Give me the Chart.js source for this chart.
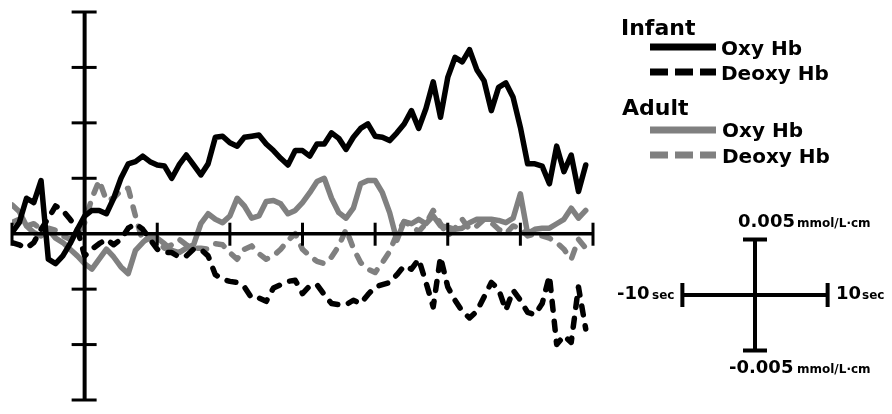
<!DOCTYPE html>
<html>
<head>
<meta charset="utf-8">
<script src="https://cdn.jsdelivr.net/npm/chart.js@4.4.1/dist/chart.umd.min.js"></script>
<style>
  html, body { margin: 0; padding: 0; background: #fff; }
  #wrap { width: 892px; height: 414px; position: relative; }
</style>
</head>
<body>
<div id="wrap"><canvas id="myChart"></canvas></div>
<script>
// time in sec, values in mmol/L·cm
const seconds = [-10, -9, -8, -7, -6, -5, -4, -3, -2, -1,
  0, 1, 2, 3, 4, 5, 6, 7, 8, 9,
  10, 11, 12, 13, 14, 15, 16, 17, 18, 19,
  20, 21, 22, 23, 24, 25, 26, 27, 28, 29,
  30, 31, 32, 33, 34, 35, 36, 37, 38, 39,
  40, 41, 42, 43, 44, 45, 46, 47, 48, 49,
  50, 51, 52, 53, 54, 55, 56, 57, 58, 59,
  60, 61, 62, 63, 64, 65, 66, 67, 68, 69];

const infantOxy = [0.0001, 0.0010, 0.0032, 0.0028, 0.0048, -0.0023, -0.0027, -0.0020, -0.0009, 0.0004,
  0.0016, 0.0021, 0.0021, 0.0018, 0.0032, 0.0050, 0.0063, 0.0065, 0.0070, 0.0065,
  0.0062, 0.0061, 0.0050, 0.0062, 0.0071, 0.0062, 0.0053, 0.0063, 0.0087, 0.0088,
  0.0082, 0.0079, 0.0087, 0.0088, 0.0089, 0.0081, 0.0075, 0.0068, 0.0062, 0.0075,
  0.0075, 0.0070, 0.0081, 0.0081, 0.0091, 0.0086, 0.0076, 0.0087, 0.0095, 0.0099,
  0.0088, 0.0087, 0.0084, 0.0091, 0.0099, 0.0111, 0.0095, 0.0113, 0.0137, 0.0105,
  0.0141, 0.0159, 0.0155, 0.0166, 0.0148, 0.0138, 0.0111, 0.0132, 0.0136, 0.0123,
  0.0096, 0.0063, 0.0063, 0.0061, 0.0045, 0.0079, 0.0056, 0.0071, 0.0038, 0.0062];

const infantDeoxy = [-0.0008, -0.0010, -0.0013, -0.0008, 0.0004, 0.0014, 0.0025, 0.0021, 0.0013, 0.0004,
  -0.0020, -0.0014, -0.0009, -0.0005, -0.0010, -0.0005, 0.0005, 0.0009, 0.0004, -0.0005,
  -0.0014, -0.0017, -0.0017, -0.0021, -0.0020, -0.0014, -0.0014, -0.0020, -0.0037, -0.0041,
  -0.0043, -0.0044, -0.0048, -0.0058, -0.0058, -0.0061, -0.0049, -0.0046, -0.0043, -0.0042,
  -0.0054, -0.0047, -0.0046, -0.0055, -0.0063, -0.0064, -0.0064, -0.0060, -0.0063, -0.0055,
  -0.0048, -0.0046, -0.0044, -0.0037, -0.0029, -0.0032, -0.0023, -0.0044, -0.0066, -0.0021,
  -0.0048, -0.0060, -0.0070, -0.0076, -0.0070, -0.0057, -0.0044, -0.0050, -0.0069, -0.0051,
  -0.0060, -0.0071, -0.0073, -0.0063, -0.0038, -0.0100, -0.0092, -0.0098, -0.0048, -0.0086];

const adultOxy = [0.0026, 0.0020, 0.0007, 0.0001, -0.0002, 0.0004, -0.0004, -0.0008, -0.0014, -0.0020,
  -0.0027, -0.0032, -0.0023, -0.0014, -0.0021, -0.0030, -0.0036, -0.0015, -0.0008, -0.0002,
  -0.0004, -0.0009, -0.0015, -0.0017, -0.0013, -0.0010, 0.0009, 0.0018, 0.0013, 0.0010,
  0.0016, 0.0032, 0.0025, 0.0014, 0.0016, 0.0029, 0.0030, 0.0027, 0.0018, 0.0021,
  0.0028, 0.0037, 0.0047, 0.0050, 0.0032, 0.0019, 0.0014, 0.0023, 0.0045, 0.0048,
  0.0048, 0.0037, 0.0019, -0.0006, 0.0011, 0.0009, 0.0013, 0.0009, 0.0016, 0.0007,
  0.0006, 0.0004, 0.0005, 0.0010, 0.0013, 0.0013, 0.0013, 0.0012, 0.0010, 0.0014,
  0.0036, 0.0000, 0.0004, 0.0005, 0.0005, 0.0009, 0.0013, 0.0023, 0.0014, 0.0021];

const adultDeoxy = [0.0010, 0.0013, 0.0007, 0.0009, 0.0004, 0.0005, 0.0003, -0.0002, -0.0005, 0.0000,
  0.0010, 0.0032, 0.0048, 0.0030, 0.0032, 0.0039, 0.0041, 0.0016, -0.0007, -0.0004,
  -0.0007, -0.0013, -0.0010, -0.0005, -0.0010, -0.0013, -0.0013, -0.0014, -0.0009, -0.0010,
  -0.0017, -0.0023, -0.0014, -0.0011, -0.0018, -0.0023, -0.0020, -0.0014, -0.0006, 0.0000,
  -0.0014, -0.0020, -0.0025, -0.0027, -0.0021, -0.0011, 0.0004, -0.0013, -0.0026, -0.0032,
  -0.0035, -0.0026, -0.0016, 0.0000, 0.0011, 0.0007, 0.0002, 0.0009, 0.0021, 0.0009,
  -0.0002, 0.0005, 0.0013, 0.0004, 0.0007, 0.0013, 0.0010, 0.0004, 0.0000, 0.0007,
  0.0005, -0.0002, 0.0000, -0.0002, -0.0004, -0.0008, -0.0014, -0.0023, -0.0005, -0.0013];

const xTicks = [-10, 10, 20, 30, 40, 50, 60, 70];
const yTicks = [0.02, 0.015, 0.01, 0.005, -0.005, -0.01, -0.015];

const FONT = '"DejaVu Sans", Verdana, sans-serif';
const GRAY = '#808080';

const toPoints = (vals) => seconds.map((s, i) => ({ x: s, y: vals[i] }));

// cross axes drawn through the scales
const crossAxes = {
  id: 'crossAxes',
  afterDatasetsDraw(chart) {
    const { ctx, scales: { x, y } } = chart;
    const x0 = x.getPixelForValue(0);
    const y0 = y.getPixelForValue(0);
    ctx.save();
    ctx.strokeStyle = '#000';
    ctx.lineCap = 'butt';

    ctx.lineWidth = 4;
    ctx.beginPath();
    ctx.moveTo(x0, y.getPixelForValue(0.02));
    ctx.lineTo(x0, y.getPixelForValue(-0.015));
    ctx.stroke();

    ctx.lineWidth = 3;
    yTicks.forEach(v => {
      const py = y.getPixelForValue(v);
      ctx.beginPath();
      ctx.moveTo(x0 - 13, py);
      ctx.lineTo(x0 + 12, py);
      ctx.stroke();
    });

    ctx.lineWidth = 3.5;
    ctx.beginPath();
    ctx.moveTo(x.getPixelForValue(-10), y0);
    ctx.lineTo(x.getPixelForValue(70), y0);
    ctx.stroke();

    ctx.lineWidth = 3;
    xTicks.forEach(v => {
      const px = x.getPixelForValue(v);
      ctx.beginPath();
      ctx.moveTo(px, y0 - 11);
      ctx.lineTo(px, y0 + 12);
      ctx.stroke();
    });
    ctx.restore();
  }
};

// grouped legend + scale bar on the right
const sidePanel = {
  id: 'sidePanel',
  afterDraw(chart) {
    const { ctx, scales: { x, y } } = chart;
    const ds = chart.data.datasets;
    ctx.save();
    ctx.fillStyle = '#000';
    ctx.textBaseline = 'alphabetic';

    const sample = (d, yy) => {
      ctx.strokeStyle = d.borderColor;
      ctx.lineWidth = 7;
      ctx.lineCap = 'butt';
      ctx.setLineDash(d.borderDash.length ? [18, 7] : []);
      ctx.beginPath();
      ctx.moveTo(650, yy);
      ctx.lineTo(716, yy);
      ctx.stroke();
      ctx.setLineDash([]);
    };

    ctx.font = 'bold 22px ' + FONT;
    ctx.fillText('Infant', 621, 35);
    ctx.fillText('Adult', 622, 115);

    ctx.font = 'bold 20px ' + FONT;
    sample(ds[0], 47);
    ctx.fillText(ds[0].label, 721, 55);
    sample(ds[1], 72);
    ctx.fillText(ds[1].label, 721, 80);
    sample(ds[2], 130);
    ctx.fillText(ds[2].label, 722, 137);
    sample(ds[3], 155);
    ctx.fillText(ds[3].label, 722, 163);

    // scale bar: 10 sec and 0.005 mmol/L·cm
    const cx = 755, cy = 295;
    const hh = x.getPixelForValue(10) - x.getPixelForValue(0);
    const hv = y.getPixelForValue(0) - y.getPixelForValue(0.005);
    ctx.strokeStyle = '#000';
    ctx.lineWidth = 4;
    ctx.beginPath();
    ctx.moveTo(cx, cy - hv); ctx.lineTo(cx, cy + hv);
    ctx.moveTo(cx - hh, cy); ctx.lineTo(cx + hh, cy);
    ctx.moveTo(cx - 12, cy - hv); ctx.lineTo(cx + 12, cy - hv);
    ctx.moveTo(cx - 12, cy + hv); ctx.lineTo(cx + 12, cy + hv);
    ctx.moveTo(cx - hh, cy - 12); ctx.lineTo(cx - hh, cy + 12);
    ctx.moveTo(cx + hh, cy - 12); ctx.lineTo(cx + hh, cy + 12);
    ctx.stroke();

    const big = 'bold 18px ' + FONT, small = 'bold 12px ' + FONT;
    ctx.font = big;
    ctx.fillText('0.005', 738, 227);
    ctx.fillText('-0.005', 729, 373);
    ctx.fillText('-10', 617, 299);
    ctx.fillText('10', 836, 299);
    ctx.font = small;
    ctx.fillText('mmol/L\u00b7cm', 797, 227);
    ctx.fillText('mmol/L\u00b7cm', 797, 373);
    ctx.fillText('sec', 652, 299);
    ctx.fillText('sec', 862, 299);
    ctx.restore();
  }
};

const ctx = document.getElementById('myChart').getContext('2d');
new Chart(ctx, {
  type: 'line',
  data: {
    datasets: [
      { label: 'Oxy Hb', data: toPoints(infantOxy), borderColor: '#000', borderWidth: 5.5, borderDash: [] },
      { label: 'Deoxy Hb', data: toPoints(infantDeoxy), borderColor: '#000', borderWidth: 5.5, borderDash: [9, 11] },
      { label: 'Oxy Hb', data: toPoints(adultOxy), borderColor: GRAY, borderWidth: 5.5, borderDash: [] },
      { label: 'Deoxy Hb', data: toPoints(adultDeoxy), borderColor: GRAY, borderWidth: 5.5, borderDash: [9, 11] }
    ]
  },
  options: {
    responsive: true,
    maintainAspectRatio: false,
    animation: false,
    layout: { padding: { left: 12, right: 299, top: 12, bottom: 14 } },
    elements: {
      point: { radius: 0 },
      line: { tension: 0, borderJoinStyle: 'round', borderCapStyle: 'round', fill: false }
    },
    scales: {
      x: { type: 'linear', min: -10, max: 70, display: false },
      y: { type: 'linear', min: -0.015, max: 0.02, display: false }
    },
    plugins: {
      legend: { display: false },
      tooltip: { enabled: false }
    }
  },
  plugins: [crossAxes, sidePanel]
});
</script>
</body>
</html>
